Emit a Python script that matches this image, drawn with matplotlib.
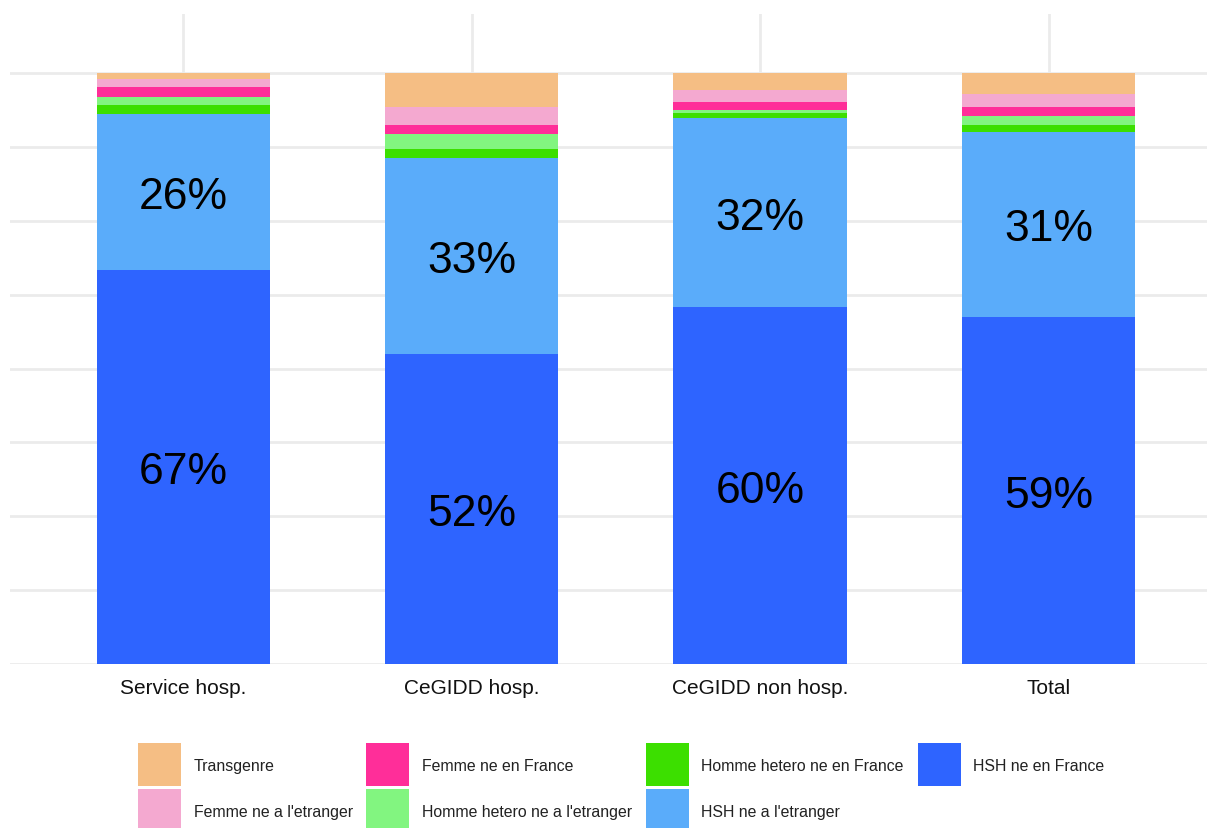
import matplotlib
matplotlib.use("Agg")
import matplotlib.pyplot as plt
from matplotlib.patches import Rectangle
import numpy as np

plt.rcParams['font.family'] = ['Liberation Sans', 'DejaVu Sans']

categories = ['Service hosp.', 'CeGIDD hosp.', 'CeGIDD non hosp.', 'Total']
hsh_fr = [0.667, 0.5245, 0.604, 0.587]
hsh_etr = [0.263, 0.332, 0.320, 0.3135]
hh_fr = [0.0158, 0.0152, 0.0085, 0.0113]
hh_etr = [0.0135, 0.0254, 0.005, 0.0152]
f_fr = [0.017, 0.0152, 0.0135, 0.0152]
f_etr = [0.0135, 0.0305, 0.020, 0.0225]
trans = [0.010, 0.0575, 0.029, 0.0355]

series = [
    ("HSH ne en France", hsh_fr, "#2E64FF"),
    ("HSH ne a l'etranger", hsh_etr, "#5AACFA"),
    ("Homme hetero ne en France", hh_fr, "#3CDF00"),
    ("Homme hetero ne a l'etranger", hh_etr, "#82F580"),
    ("Femme ne en France", f_fr, "#FF2E99"),
    ("Femme ne a l'etranger", f_etr, "#F4A9D0"),
    ("Transgenre", trans, "#F5BE84"),
]
colors = {n: c for n, _, c in series}

W, H = 1207, 829
fig = plt.figure(figsize=(W / 100, H / 100), dpi=100)
ax = fig.add_axes([10 / W, 1 - 665 / H, 1 - 10 / W, (665 - 15) / H])

x = np.arange(len(categories))
bottom = np.zeros(len(categories))
for name, vals, col in series:
    vals = np.array(vals)
    ax.bar(x, vals, width=0.6, bottom=bottom, color=col, label=name, zorder=2, linewidth=0)
    if name.startswith("HSH"):
        for xi, v, bt in zip(x, vals, bottom):
            ax.annotate(f"{round(v * 100)}%", (xi, bt + v / 2), xytext=(0, -11.5),
                        textcoords='offset points', ha='center', va='baseline',
                        fontsize=32, color='black', zorder=3)
    bottom = bottom + vals

ax.set_ylim(0, 1.1)
ax.set_xlim(-0.6, (W - 183) / 288.5)
ax.set_yticks(np.arange(0, 1.001, 0.125))
ax.set_yticklabels([])
ax.set_xticks(x)
ax.set_xticklabels(categories, fontsize=15, color='#111111')
ax.tick_params(axis='both', length=0)
ax.tick_params(axis='x', pad=10)
ax.grid(True, color='#EBEBEB', linewidth=2, zorder=0)
ax.set_axisbelow(True)
for s in ax.spines.values():
    s.set_visible(False)

# legend (4 columns, filled column by column)
order = ["Transgenre", "Femme ne a l'etranger", "Femme ne en France",
         "Homme hetero ne a l'etranger", "Homme hetero ne en France",
         "HSH ne a l'etranger", "HSH ne en France"]
sq_x = [138, 366, 646, 918]
tx_x = [194, 422, 701, 973]
sq_top = [744, 790]
baseline = [770.7, 817.3]
sq = 43
for i, name in enumerate(order):
    c, r = divmod(i, 2)
    fig.add_artist(Rectangle((sq_x[c] / W, 1 - (sq_top[r] + sq) / H), sq / W, sq / H,
                             transform=fig.transFigure, facecolor=colors[name],
                             edgecolor='none'))
    fig.text(tx_x[c] / W, 1 - baseline[r] / H, name, fontsize=11.4, color='#222222',
             ha='left', va='baseline')

fig.savefig("out.png", dpi=100)
